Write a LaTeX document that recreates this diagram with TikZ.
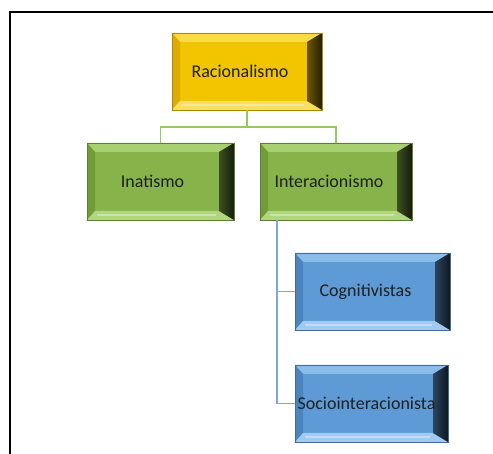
\documentclass[tikz,border=0pt]{standalone}
\usepackage{fontspec}
\setmainfont{Carlito}
\begin{document}
\begin{tikzpicture}[x=1pt,y=-1pt,
  bevelbox/.style n args={5}{rectangle, minimum width=#1, minimum height=77pt, inner sep=0pt,
    fill=#2, draw=#2!70!black, line width=0.4pt,
    path picture={
      \coordinate (pnw) at (path picture bounding box.north west);
      \coordinate (pne) at (path picture bounding box.north east);
      \coordinate (psw) at (path picture bounding box.south west);
      \coordinate (pse) at (path picture bounding box.south east);
      \fill[#3] (pnw) -- (pne) -- ([xshift=-15pt,yshift=-9pt]pne) -- ([xshift=8pt,yshift=-9pt]pnw) -- cycle;
      \fill[#5] (pnw) -- ([xshift=8pt,yshift=-9pt]pnw) -- ([xshift=8pt,yshift=9pt]psw) -- (psw) -- cycle;
      \fill[#4] (psw) -- ([xshift=8pt,yshift=9pt]psw) -- ([xshift=-15pt,yshift=9pt]pse) -- (pse) -- cycle;
      \fill[white,opacity=0.35] ([xshift=10pt,yshift=4pt]psw) rectangle ([xshift=-18pt,yshift=6pt]pse);
      \shade[left color=#2!45!black, right color=#2!15!black] (pne) -- (pse) -- ([xshift=-15pt,yshift=9pt]pse) -- ([xshift=-15pt,yshift=-9pt]pne) -- cycle;
    }},
  yellowbox/.style={bevelbox={#1}{yface}{ytop}{ybot}{yleft}},
  greenbox/.style={bevelbox={#1}{gface}{gtop}{gbot}{gleft}},
  bluebox/.style={bevelbox={#1}{bface}{btop}{bbot}{bleft}},
  lbl/.style={font=\fontsize{18}{21}\selectfont, text=black!88, inner sep=0pt},
  gline/.style={draw=gline, line width=1.8pt},
  bline/.style={draw=bline, line width=1.8pt},
  frame/.style={draw=black, line width=2pt}
]
\definecolor{yface}{RGB}{243,196,0}
\definecolor{ytop}{RGB}{250,218,70}
\definecolor{ybot}{RGB}{250,222,100}
\definecolor{yleft}{RGB}{222,172,0}
\definecolor{gface}{RGB}{134,180,74}
\definecolor{gtop}{RGB}{168,207,112}
\definecolor{gbot}{RGB}{176,214,128}
\definecolor{gleft}{RGB}{112,156,58}
\definecolor{bface}{RGB}{94,155,214}
\definecolor{btop}{RGB}{140,189,234}
\definecolor{bbot}{RGB}{160,202,238}
\definecolor{bleft}{RGB}{76,132,190}
\definecolor{gline}{RGB}{150,200,100}
\definecolor{bline}{RGB}{120,170,222}

\useasboundingbox (0,0) rectangle (493,454);
\fill[white] (0,0) rectangle (493,454);
\draw[frame] (10,460) -- (10,12) -- (500,12);

\node[yellowbox=150pt] (rac) at (247,71.5) {};
\node[greenbox=147pt] (ina) at (160.5,181.5) {};
\node[greenbox=152pt] (int) at (336,181.5) {};
\node[bluebox=155pt] (cog) at (372.5,291.5) {};
\node[bluebox=153pt] (soc) at (371.5,403.5) {};

\draw[gline] (rac.south) -- ++(0,17) coordinate (gj) -| (ina.north);
\draw[gline] (gj) -| (int.north);
\draw[bline] ([xshift=17pt]int.south west) |- (cog.west);
\draw[bline] ([xshift=17pt]int.south west) |- (soc.west);

\node[lbl] (racT) at ([xshift=-7pt]rac.center) {Racionalismo};
\node[lbl] (inaT) at ([xshift=-8pt]ina.center) {Inatismo};
\node[lbl] (intT) at ([xshift=-7pt]int.center) {Interacionismo};
\node[lbl] (cogT) at ([xshift=-7pt]cog.center) {Cognitivistas};
\node[lbl] (socT) at ([xshift=-5pt]soc.center) {Sociointeracionista};
\end{tikzpicture}
\end{document}
